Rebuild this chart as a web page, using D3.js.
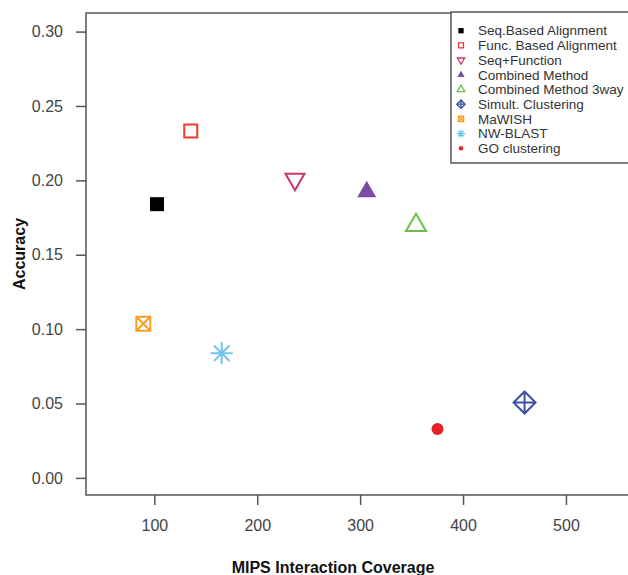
<!DOCTYPE html>
<html>
<head>
<meta charset="utf-8">
<script src="https://cdn.jsdelivr.net/npm/d3@7"></script>
<style>
  body { margin: 0; background: #fff; }
  svg { display: block; font-family: 'Liberation Sans', Arial, sans-serif; }
</style>
</head>
<body>
<svg id="chart" width="628" height="575"></svg>
<script>
// values
const methods = [
  'Seq.Based Alignment',
  'Func. Based Alignment',
  'Seq+Function',
  'Combined Method',
  'Combined Method 3way',
  'Simult. Clustering',
  'MaWISH',
  'NW-BLAST',
  'GO clustering',
]
const coverage = [102.6, 135.4, 236.7, 306.4, 354.3, 459.8, 89.3, 165.5, 375.2]
const accuracy = [0.184, 0.2331, 0.2007, 0.1924, 0.1698, 0.0507, 0.1036, 0.0838, 0.0328]
const shapes = ['squareFill', 'square', 'triDown', 'triFill', 'tri', 'diamondPlus', 'squareX', 'asterisk', 'dot']
const colors = ['#000000', '#ef3b2c', '#c6385f', '#7b4ca2', '#6cbf47', '#3d51a6', '#f7a023', '#72c6ee', '#e8222a']
const xTicks = [100, 200, 300, 400, 500]
const yTicks = [0, 0.05, 0.1, 0.15, 0.2, 0.25, 0.3]

const plotLeft = 86
const plotTop = 13
const plotBottom = 495
const plotRight = 650

const svg = d3.select('#chart')

const x = d3.scaleLinear().domain([33.6, 581.7]).range([plotLeft, plotRight])
const y = d3.scaleLinear().domain([-0.0115, 0.3125]).range([plotBottom, plotTop])

const axisColor = '#555'

// y axis
const yAxis = svg.append('g')
  .attr('transform', `translate(${plotLeft},0)`)
  .call(d3.axisLeft(y).tickValues(yTicks).tickSize(10).tickPadding(13).tickFormat(d3.format('.2f')))
yAxis.select('.domain').remove()
yAxis.selectAll('.tick line').attr('stroke', axisColor).attr('stroke-width', 1.5)
yAxis.selectAll('.tick text').attr('fill', '#444').attr('font-size', '16px')

// x axis
const xAxis = svg.append('g')
  .attr('transform', `translate(0,${plotBottom})`)
  .call(d3.axisBottom(x).tickValues(xTicks).tickSize(10).tickPadding(15))
xAxis.select('.domain').remove()
xAxis.selectAll('.tick line').attr('stroke', axisColor).attr('stroke-width', 1.5)
xAxis.selectAll('.tick text').attr('fill', '#444').attr('font-size', '16px')

// plot box
svg.append('rect')
  .attr('x', plotLeft)
  .attr('y', plotTop)
  .attr('width', plotRight - plotLeft)
  .attr('height', plotBottom - plotTop)
  .attr('fill', 'none')
  .attr('stroke', axisColor)
  .attr('stroke-width', 1.5)

// axis titles
svg.append('text')
  .attr('x', 333)
  .attr('y', 573)
  .attr('text-anchor', 'middle')
  .attr('font-size', '16px')
  .attr('font-weight', 'bold')
  .attr('fill', '#111')
  .text('MIPS Interaction Coverage')

svg.append('text')
  .attr('transform', `translate(25,${(plotTop + plotBottom) / 2}) rotate(-90)`)
  .attr('text-anchor', 'middle')
  .attr('font-size', '16px')
  .attr('font-weight', 'bold')
  .attr('fill', '#111')
  .text('Accuracy')

// marker drawing, k scales the size
function marker(g, shape, color, k) {
  const sw = k < 1 ? 1.3 : 2
  const line = (p) => g.append('path').attr('d', p).attr('fill', 'none').attr('stroke', color).attr('stroke-width', sw)
  const fill = (p) => g.append('path').attr('d', p).attr('fill', color)
  const sq = (a) => `M${-a / 2},${-a / 2}h${a}v${a}h${-a}Z`
  const tri = (w, dir) => {
    const h = w * Math.sqrt(3) / 2
    const t = dir * (-2 * h / 3)
    const b = dir * (h / 3)
    return `M0,${t}L${w / 2},${b}L${-w / 2},${b}Z`
  }
  if (shape === 'squareFill') fill(sq(14 * k))
  else if (shape === 'square') line(sq(13 * k))
  else if (shape === 'triDown') line(tri(19 * k, -1))
  else if (shape === 'triFill') fill(tri(19 * k, 1))
  else if (shape === 'tri') line(tri(20 * k, 1))
  else if (shape === 'diamondPlus') {
    const r = 11 * k
    line(`M0,${-r}L${r},0L0,${r}L${-r},0ZM${-r},0H${r}M0,${-r}V${r}`)
  } else if (shape === 'squareX') {
    const a = 14 * k
    line(sq(a) + `M${-a / 2},${-a / 2}L${a / 2},${a / 2}M${a / 2},${-a / 2}L${-a / 2},${a / 2}`)
  } else if (shape === 'asterisk') {
    const r = 11 * k
    const d = r * Math.SQRT1_2
    line(`M${-r},0H${r}M0,${-r}V${r}M${-d},${-d}L${d},${d}M${d},${-d}L${-d},${d}`)
  } else if (shape === 'dot') {
    g.append('circle').attr('r', 6 * k).attr('fill', color)
  }
}

// points
svg.append('g')
  .selectAll('g.point')
  .data(methods)
  .join('g')
  .attr('class', 'point')
  .attr('transform', (d, i) => `translate(${x(coverage[i])},${y(accuracy[i])})`)
  .each(function (d, i) {
    marker(d3.select(this), shapes[i], colors[i], 1)
  })

// legend
const legend = svg.append('g').attr('transform', 'translate(451,12)')
legend.append('rect')
  .attr('width', 240)
  .attr('height', 151)
  .attr('fill', '#fff')
  .attr('stroke', axisColor)
  .attr('stroke-width', 1.5)

const rowH = 14.7
legend.selectAll('g.legend-item')
  .data(methods)
  .join('g')
  .attr('class', 'legend-item')
  .attr('transform', (d, i) => `translate(0,${18.7 + i * rowH})`)
  .each(function (d, i) {
    const item = d3.select(this)
    marker(item.append('g').attr('transform', 'translate(10,0)'), shapes[i], colors[i], 0.38)
    item.append('text')
      .attr('x', 27)
      .attr('dy', '0.35em')
      .attr('font-size', '13.5px')
      .attr('fill', '#333')
      .text(d)
  })
</script>
</body>
</html>
